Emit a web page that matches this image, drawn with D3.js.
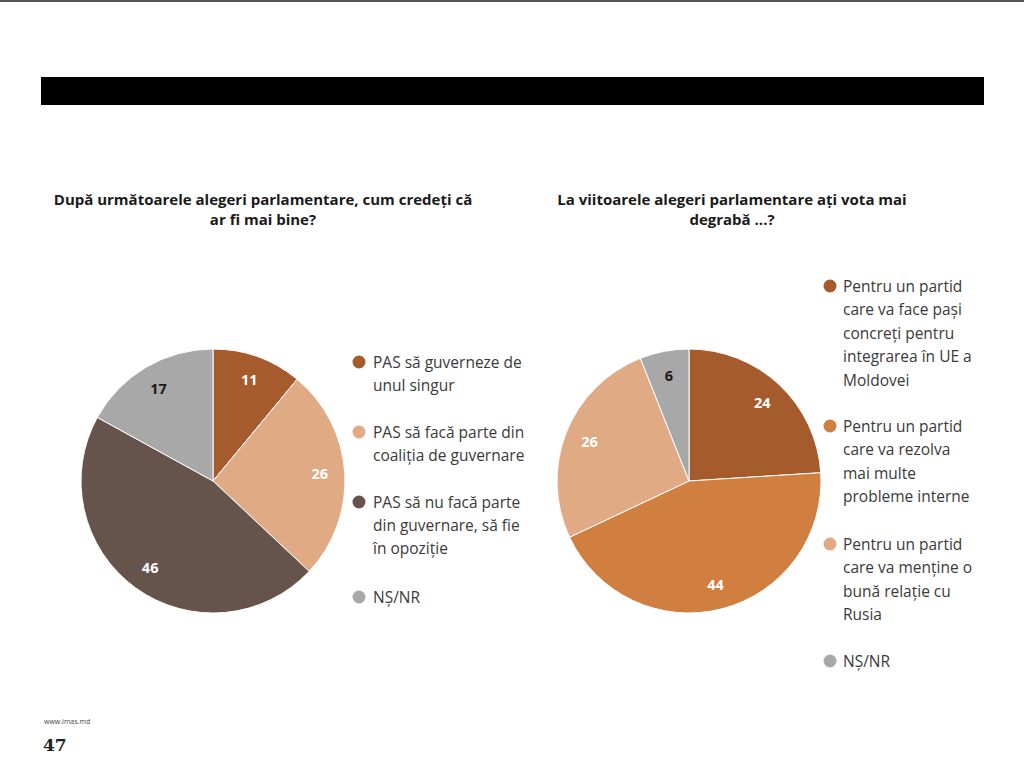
<!DOCTYPE html>
<html><head><meta charset="utf-8">
<script src="https://cdn.jsdelivr.net/npm/d3@7"></script>
<style>body{margin:0;background:#fff}svg{display:block}</style>
</head><body>
<svg id="c" width="1024" height="773"></svg>
<script>
const leftTitle = ["După următoarele alegeri parlamentare, cum credeți că", "ar fi mai bine?"];
const rightTitle = ["La viitoarele alegeri parlamentare ați vota mai", "degrabă ...?"];
const leftCategories = [
  ["PAS să guverneze de", "unul singur"],
  ["PAS să facă parte din", "coaliția de guvernare"],
  ["PAS să nu facă parte", "din guvernare, să fie", "în opoziție"],
  ["NȘ/NR"]
];
const leftValues = [11, 26, 46, 17];
const leftColors = ["#a65b2c", "#dfaa84", "#66534b", "#a8a8a8"];
const rightCategories = [
  ["Pentru un partid", "care va face pași", "concreți pentru", "integrarea în UE a", "Moldovei"],
  ["Pentru un partid", "care va rezolva", "mai multe", "probleme interne"],
  ["Pentru un partid", "care va menține o", "bună relație cu", "Rusia"],
  ["NȘ/NR"]
];
const rightValues = [24, 44, 26, 6];
const rightColors = ["#a65b2c", "#d17f40", "#dfaa84", "#a8a8a8"];

const svg = d3.select("#c");
const FONT = "'Open Sans', Lato, sans-serif";

svg.append("rect").attr("x",0).attr("y",0).attr("width",1024).attr("height",2).attr("fill","#555");
svg.append("rect").attr("x",41).attr("y",77).attr("width",943).attr("height",28).attr("fill","#000");

function title(lines, cx, y0){
  const t = svg.append("text").attr("font-family",FONT).attr("font-weight","bold")
    .attr("font-size",15).attr("fill","#1a1a1a").attr("text-anchor","middle");
  lines.forEach((l,i)=>t.append("tspan").attr("x",cx).attr("y",y0+i*20).text(l));
}
title(leftTitle, 263, 205);
title(rightTitle, 732, 205);

function pie(values, colors, cx, cy, R){
  const g = svg.append("g").attr("transform",`translate(${cx},${cy})`);
  const arcs = d3.pie().sort(null).value(d=>d)(values);
  const arc = d3.arc().innerRadius(0).outerRadius(R);
  const lab = d3.arc().innerRadius(R*0.81).outerRadius(R*0.81);
  g.selectAll("path").data(arcs).join("path").attr("d",arc)
    .attr("fill",(d,i)=>colors[i]).attr("stroke","#fff").attr("stroke-width",1);
  g.selectAll("text").data(arcs).join("text")
    .attr("transform",d=>`translate(${lab.centroid(d)})`)
    .attr("text-anchor","middle").attr("dy","0.35em")
    .attr("font-family",FONT).attr("font-weight","bold").attr("font-size",14.5)
    .attr("fill",(d,i)=>colors[i]==="#a8a8a8"?"#1a1a1a":"#fff")
    .text(d=>d.data);
}
pie(leftValues, leftColors, 213, 481, 132);
pie(rightValues, rightColors, 689, 481, 132);

function legend(cats, colors, cx, tx, starts, lh){
  cats.forEach((lines,i)=>{
    const y = starts[i];
    svg.append("circle").attr("cx",cx).attr("cy",y-1).attr("r",6.5).attr("fill",colors[i]);
    const t = svg.append("text").attr("font-family",FONT).attr("font-size",15.5).attr("fill","#3a3a3a");
    lines.forEach((l,j)=>t.append("tspan").attr("x",tx).attr("y",y+5+j*lh).text(l));
  });
}
legend(leftCategories, leftColors, 359, 373, [363, 433, 503, 598], 23.2);
legend(rightCategories, rightColors, 830, 843, [287, 427, 545, 662], 23.4);

svg.append("text").attr("x",44).attr("y",724).attr("font-family",FONT).attr("font-size",7).attr("fill","#444").text("www.imas.md");
svg.append("text").attr("x",43).attr("y",751).attr("font-family","'DejaVu Serif', serif").attr("font-weight","bold").attr("font-size",17).attr("fill","#222").text("47");
</script>
</body></html>
